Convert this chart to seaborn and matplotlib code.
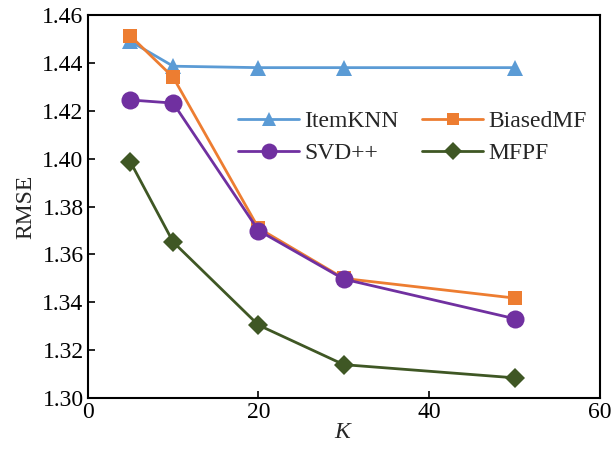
import matplotlib
matplotlib.use("Agg")
import matplotlib.pyplot as plt
import seaborn as sns
import pandas as pd

K = [5, 10, 20, 30, 50]
itemknn = [1.4490, 1.4386, 1.4380, 1.4380, 1.4380]
biasedmf = [1.4512, 1.4340, 1.3710, 1.3500, 1.3418]
svdpp = [1.4245, 1.4232, 1.3700, 1.3497, 1.3332]
mfpf = [1.3986, 1.3652, 1.3305, 1.3140, 1.3085]
methods = ["ItemKNN", "BiasedMF", "SVD++", "MFPF"]
colors = ["#5B9BD5", "#ED7D31", "#7030A0", "#3F5724"]
markers = ["^", "s", "o", "D"]
msizes = [11, 10, 13, 10]

rows = []
for name, vals in zip(methods, [itemknn, biasedmf, svdpp, mfpf]):
    for k, v in zip(K, vals):
        rows.append({"K": k, "RMSE": v, "method": name})
df = pd.DataFrame(rows)

sns.set_style("ticks")
plt.rcParams["font.family"] = ["Liberation Serif", "DejaVu Serif"]
plt.rcParams["mathtext.fontset"] = "custom"
plt.rcParams["mathtext.it"] = "Liberation Serif:italic"

fig = plt.figure(figsize=(6.14, 4.53), dpi=100)
ax = fig.add_axes([0.143, 0.121, 0.834, 0.846])

for name, c, m, ms in zip(methods, colors, markers, msizes):
    sub = df[df["method"] == name]
    sns.lineplot(data=sub, x="K", y="RMSE", ax=ax, color=c, marker=m,
                 markersize=ms, markeredgewidth=0, linewidth=2, label=name)

ax.set_xlim(0, 60)
ax.set_ylim(1.30, 1.46)
ax.set_xticks([0, 20, 40, 60])
ax.set_yticks([1.30, 1.32, 1.34, 1.36, 1.38, 1.40, 1.42, 1.44, 1.46])
ax.set_yticklabels([f"{v:.2f}" for v in ax.get_yticks()])
ax.tick_params(direction="in", labelsize=17, length=5, width=1.2, colors="black", pad=3)
for s in ax.spines.values():
    s.set_visible(True)
    s.set_linewidth(1.5)
    s.set_color("black")
ax.set_xlabel("$K$", fontsize=17, labelpad=-1)
ax.set_ylabel("RMSE", fontsize=17, labelpad=4)

handles, labels = ax.get_legend_handles_labels()
order = [0, 2, 1, 3]
ax.legend([handles[i] for i in order], [labels[i] for i in order],
          ncol=2, frameon=False, fontsize=17, loc="center left",
          bbox_to_anchor=(0.293, 0.681), handlelength=2.6, columnspacing=1.0,
          handletextpad=0.2, labelspacing=0.45, borderaxespad=0, borderpad=0,
          markerscale=0.88)

fig.savefig("out.png", dpi=100)
